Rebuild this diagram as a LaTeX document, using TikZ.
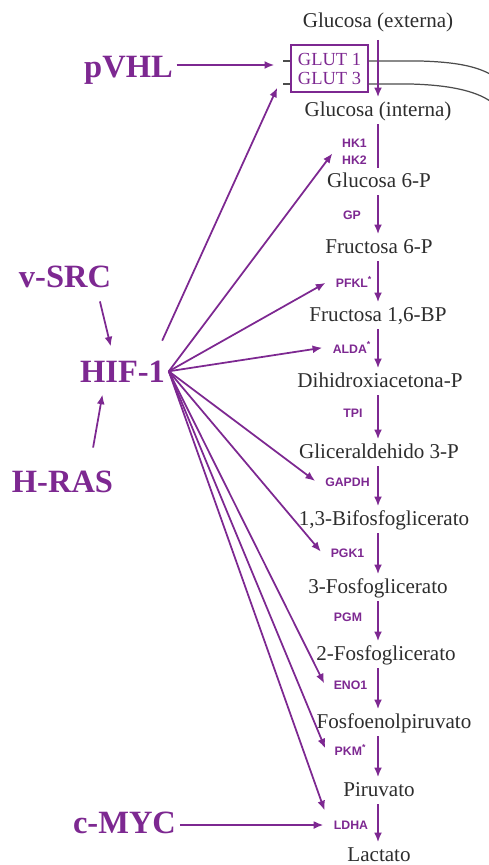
\documentclass[tikz,border=0pt]{standalone}
\usepackage{fontspec}
\setmainfont{Liberation Serif}
\setsansfont{Liberation Sans}
\usepackage{xcolor}
\usepackage{tikz}
\usetikzlibrary{arrows.meta, calc}
\definecolor{hifpurple}{RGB}{125,40,145}
\definecolor{metgray}{RGB}{45,45,45}

\begin{document}
\begin{tikzpicture}[
    x=0.02cm, y=-0.02cm,
    metab/.style={text=metgray, font=\fontsize{12}{14}\selectfont, anchor=base, inner sep=2pt, text height=8.5pt, text depth=2.5pt},
    enzyme/.style={text=hifpurple, font=\sffamily\bfseries\fontsize{7}{9.4}\selectfont, inner sep=1pt, outer sep=4pt, align=center},
    regul/.style={text=hifpurple, font=\bfseries\fontsize{18.5}{20}\selectfont, anchor=base, inner sep=2pt},
    transp/.style={draw=hifpurple, text=hifpurple, line width=0.6pt, font=\fontsize{10.5}{10.8}\selectfont, align=center, inner sep=1pt, minimum width=1.54cm, minimum height=0.94cm},
    flow/.style={-{Latex[length=5.5pt, width=4.5pt]}, draw=hifpurple, line width=1pt},
    act/.style={-{Latex[length=5.5pt, width=4.5pt]}, draw=hifpurple, line width=1pt, shorten >=1pt},
    membrane/.style={draw=black!70, line width=0.7pt}
]
\useasboundingbox (0,0) rectangle (489,865);

% 1. Metabolites (baselines)
\coordinate (ax) at (378,0);
\node[metab] (glcext) at (378,28) {Glucosa (externa)};
\node[metab] (glcint) at (378,116) {Glucosa (interna)};
\node[metab] (g6p) at (379,187) {Glucosa 6-P};
\node[metab] (f6p) at (379,253) {Fructosa 6-P};
\node[metab] (f16bp) at (378,321) {Fructosa 1,6-BP};
\node[metab] (dhap) at (380,387) {Dihidroxiacetona-P};
\node[metab] (g3p) at (379,458) {Gliceraldehido 3-P};
\node[metab] (bpg) at (384,525) {1,3-Bifosfoglicerato};
\node[metab] (pg3) at (378,593) {3-Fosfoglicerato};
\node[metab] (pg2) at (386,660) {2-Fosfoglicerato};
\node[metab] (pep) at (394,728) {Fosfoenolpiruvato};
\node[metab] (pyr) at (379,796) {Piruvato};
\node[metab] (lac) at (379,861) {Lactato};

% 2. Transporter and membrane
\node[transp] (glut) at (329.5,68.5) {GLUT 1\\GLUT 3};
\coordinate (mtop) at (0,61);
\coordinate (mbot) at (0,84);
\draw[membrane] (283,61) -- (glut.west |- mtop);
\draw[membrane] (283,84) -- (glut.west |- mbot);
\draw[membrane] (glut.east |- mtop) -- (420,61) .. controls (455,62) and (475,66) .. (490,74);
\draw[membrane] (glut.east |- mbot) -- (410,84) .. controls (450,85) and (475,91) .. (490,101);

% 3. Enzymes
\node[enzyme] (hk) at (354.5,152) {HK1\\HK2};
\node[enzyme] (gp) at (352,215) {GP};
\node[enzyme] (pfkl) at (354,282) {PFKL\textsuperscript{*}};
\node[enzyme] (alda) at (352,347.5) {ALDA\textsuperscript{*}};
\node[enzyme] (tpi) at (353,413.5) {TPI};
\node[enzyme] (gapdh) at (347.5,482) {GAPDH};
\node[enzyme] (pgk) at (347.5,553) {PGK1};
\node[enzyme] (pgm) at (348,617) {PGM};
\node[enzyme] (eno) at (350.5,685) {ENO1};
\node[enzyme] (pkm) at (350.5,750) {PKM\textsuperscript{*}};
\node[enzyme] (ldha) at (351,825) {LDHA};

% 4. Glycolysis steps
\draw[flow, shorten <=2pt] (glcext.south -| ax) -- (glcint.north -| ax);
\draw[flow, -] (glcint.south -| ax) -- (g6p.north -| ax);
\draw[flow] (g6p.south -| ax) -- (f6p.north -| ax);
\draw[flow] (f6p.south -| ax) -- (f16bp.north -| ax);
\draw[flow] (f16bp.south -| ax) -- (dhap.north -| ax);
\draw[flow] (dhap.south -| ax) -- (g3p.north -| ax);
\draw[flow] (g3p.south -| ax) -- (bpg.north -| ax);
\draw[flow] (bpg.south -| ax) -- (pg3.north -| ax);
\draw[flow] (pg3.south -| ax) -- (pg2.north -| ax);
\draw[flow] (pg2.south -| ax) -- (pep.north -| ax);
\draw[flow] (pep.south -| ax) -- (pyr.north -| ax);
\draw[flow] (pyr.south -| ax) -- (lac.north -| ax);

% 5. Regulators
\node[regul] (pvhl) at (128.5,78) {pVHL};
\node[regul] (vsrc) at (65,287) {v-SRC};
\node[regul] (hif) at (122.5,382) {HIF-1};
\node[regul] (hras) at (62.5,492) {H-RAS};
\node[regul] (cmyc) at (124.5,833) {c-MYC};

\coordinate (vhlin) at (276,65);
\coordinate (glutin) at (278,86);
\draw[act] (pvhl.east |- vhlin) -- (vhlin);
\draw[act, shorten <=6pt, shorten >=6pt] ($(vsrc.south)!0.65!(vsrc.south east)$) -- ($(hif.north west)!0.4!(hif.north east)$);
\draw[act, shorten <=11pt, shorten >=5pt] ($(hras.north)!0.5!(hras.north east)$) -- ($(hif.south west)!0.3!(hif.south east)$);
\draw[act] (cmyc.east |- ldha.west) -- (ldha.west);

% 6. HIF-1 targets
\draw[act, shorten <=10pt] ($(hif.north)!0.7!(hif.north east)$) -- (glutin);
\draw[act] (hif.east) -- (hk.west);
\draw[act] (hif.east) -- (pfkl.west);
\draw[act] (hif.east) -- (alda.west);
\draw[act] (hif.east) -- (gapdh.west);
\draw[act] (hif.east) -- (pgk.west);
\draw[act] (hif.east) -- (eno.west);
\draw[act] (hif.east) -- (pkm.west);
\draw[act] (hif.east) -- (ldha.north west);

\end{tikzpicture}
\end{document}
